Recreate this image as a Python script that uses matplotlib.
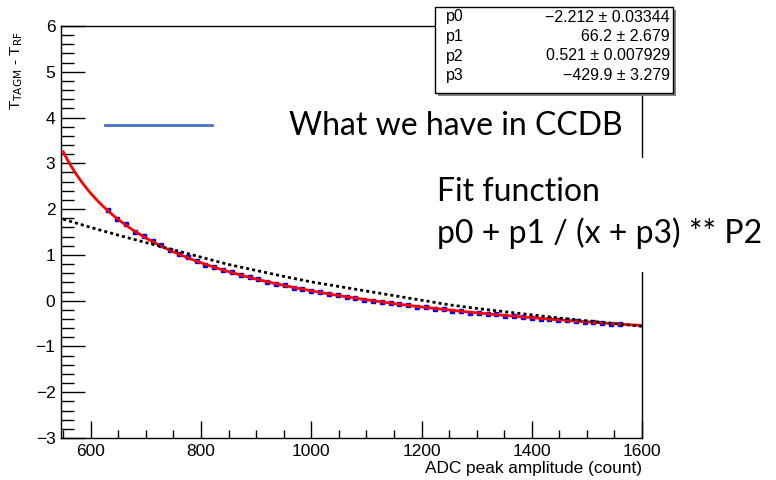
import numpy as np
import matplotlib.pyplot as plt
from matplotlib.patches import Rectangle
from matplotlib.lines import Line2D
from matplotlib.ticker import MultipleLocator

# fit result: p0 + p1 / (x + p3) ** p2
par_names = ['p0', 'p1', 'p2', 'p3']
par_values = [-2.212, 66.2, 0.521, -429.9]
par_text = ['\u22122.212 \u00b1 0.03344', '66.2 \u00b1 2.679',
            '0.521 \u00b1 0.007929', '\u2212429.9 \u00b1 3.279']

# measured time offsets vs ADC amplitude
adc = [632, 648, 664, 680, 696, 712, 728, 744, 760, 776, 792, 808, 824, 840,
       856, 872, 888, 904, 920, 936, 952, 968, 984, 1000, 1016, 1032, 1048,
       1064, 1080, 1096, 1112, 1128, 1144, 1160, 1176, 1192, 1208, 1224, 1240,
       1256, 1272, 1288, 1304, 1320, 1336, 1352, 1368, 1384, 1400, 1416, 1432,
       1448, 1464, 1480, 1496, 1512, 1528, 1544, 1560]
dt = [1.97, 1.79, 1.67, 1.51, 1.42, 1.30, 1.21, 1.10, 1.02, 0.95, 0.87, 0.79,
      0.74, 0.67, 0.62, 0.55, 0.51, 0.47, 0.41, 0.37, 0.34, 0.28, 0.26, 0.21,
      0.19, 0.14, 0.12, 0.08, 0.06, 0.02, 0.00, -0.03, -0.05, -0.08, -0.10,
      -0.13, -0.14, -0.18, -0.19, -0.22, -0.23, -0.26, -0.27, -0.29, -0.30,
      -0.33, -0.34, -0.36, -0.37, -0.39, -0.40, -0.42, -0.43, -0.45, -0.46,
      -0.47, -0.49, -0.50, -0.51]

# correction currently stored in CCDB
ccdb_x = [550, 600, 650, 700, 750, 800, 850, 900, 950, 1000, 1050, 1100,
          1150, 1200, 1250, 1300, 1350, 1400, 1450, 1500, 1550, 1600]
ccdb_y = [1.78, 1.60, 1.43, 1.27, 1.11, 0.95, 0.79, 0.66, 0.53, 0.41, 0.31,
          0.21, 0.11, 0.01, -0.09, -0.17, -0.24, -0.31, -0.38, -0.44, -0.50,
          -0.56]

W, H = 776, 480
fig = plt.figure(figsize=(W / 100, H / 100), dpi=100)
ax = fig.add_axes([61 / W, 1 - 438 / H, (642 - 61) / W, (438 - 26) / H])

ax.plot(adc, dt, 's', color='#0000ff', markersize=2.5, zorder=2)
p0, p1, p2, p3 = par_values
xf = np.linspace(550, 1600, 300)
ax.plot(xf, p0 + p1 / (xf + p3) ** p2, color='#ff0000', lw=2, zorder=3)
ax.plot(ccdb_x, ccdb_y, color='black', lw=2, ls=(0, (1.1, 1.1)), zorder=4)

ax.set_xlim(546, 1600)
ax.set_ylim(-3, 6)
ax.xaxis.set_major_locator(MultipleLocator(200))
ax.xaxis.set_minor_locator(MultipleLocator(50))
ax.yaxis.set_major_locator(MultipleLocator(1))
ax.yaxis.set_minor_locator(MultipleLocator(0.2))
ax.tick_params(axis='x', which='major', direction='in', length=12, width=1, labelsize=12.5, pad=4)
ax.tick_params(axis='x', which='minor', direction='in', length=6, width=1)
ax.tick_params(axis='y', which='major', direction='in', length=17, width=1, labelsize=12.5, pad=4)
ax.tick_params(axis='y', which='minor', direction='in', length=9, width=1)
for lab in ax.get_xticklabels() + ax.get_yticklabels():
    lab.set_family('Liberation Sans')
for s in ax.spines.values():
    s.set_linewidth(1)

fig.text(642 / W, 1 - 468 / H, 'ADC peak amplitude (count)', ha='right', va='center',
         fontsize=12.4, family='Liberation Sans')
fig.text(17 / W, 1 - 31 / H, r'T$_{\mathrm{TAGM}}$ - T$_{\mathrm{RF}}$', rotation=90,
         ha='center', va='top', fontsize=11, family='Liberation Sans')

# stats box with shadow
fig.add_artist(Rectangle((438 / W, 1 - 96 / H), 238 / W, 86 / H, transform=fig.transFigure,
                         facecolor='#808080', edgecolor='none', zorder=10))
fig.add_artist(Rectangle((435 / W, 1 - 93 / H), 238 / W, 86 / H, transform=fig.transFigure,
                         facecolor='white', edgecolor='black', lw=1, zorder=11))
for i, (n, t) in enumerate(zip(par_names, par_text)):
    y = 1 - (17 + 19.5 * i) / H
    fig.text(446 / W, y, n, ha='left', va='center', fontsize=11.5,
             family='Liberation Sans', zorder=12)
    fig.text(670 / W, y, t, ha='right', va='center', fontsize=11.5,
             family='Liberation Sans', zorder=12)

# annotations
fig.add_artist(Line2D([105 / W, 212 / W], [1 - 124.5 / H, 1 - 124.5 / H],
                      transform=fig.transFigure, color='#4472C4', lw=2))
fig.text(289 / W, 1 - 126 / H, 'What we have in CCDB', ha='left', va='center',
         fontsize=23, family='Lato')
fig.add_artist(Rectangle((430 / W, 1 - 272 / H), 346 / W, 114 / H, transform=fig.transFigure,
                         facecolor='white', edgecolor='none', zorder=5))
fig.text(437 / W, 1 - 192 / H, 'Fit function', ha='left', va='center',
         fontsize=23, family='Lato', zorder=6)
fig.text(437 / W, 1 - 233 / H, 'p0 + p1 / (x + p3) ** P2', ha='left', va='center',
         fontsize=23, family='Lato', zorder=6)

fig.savefig('out.png', dpi=100)
